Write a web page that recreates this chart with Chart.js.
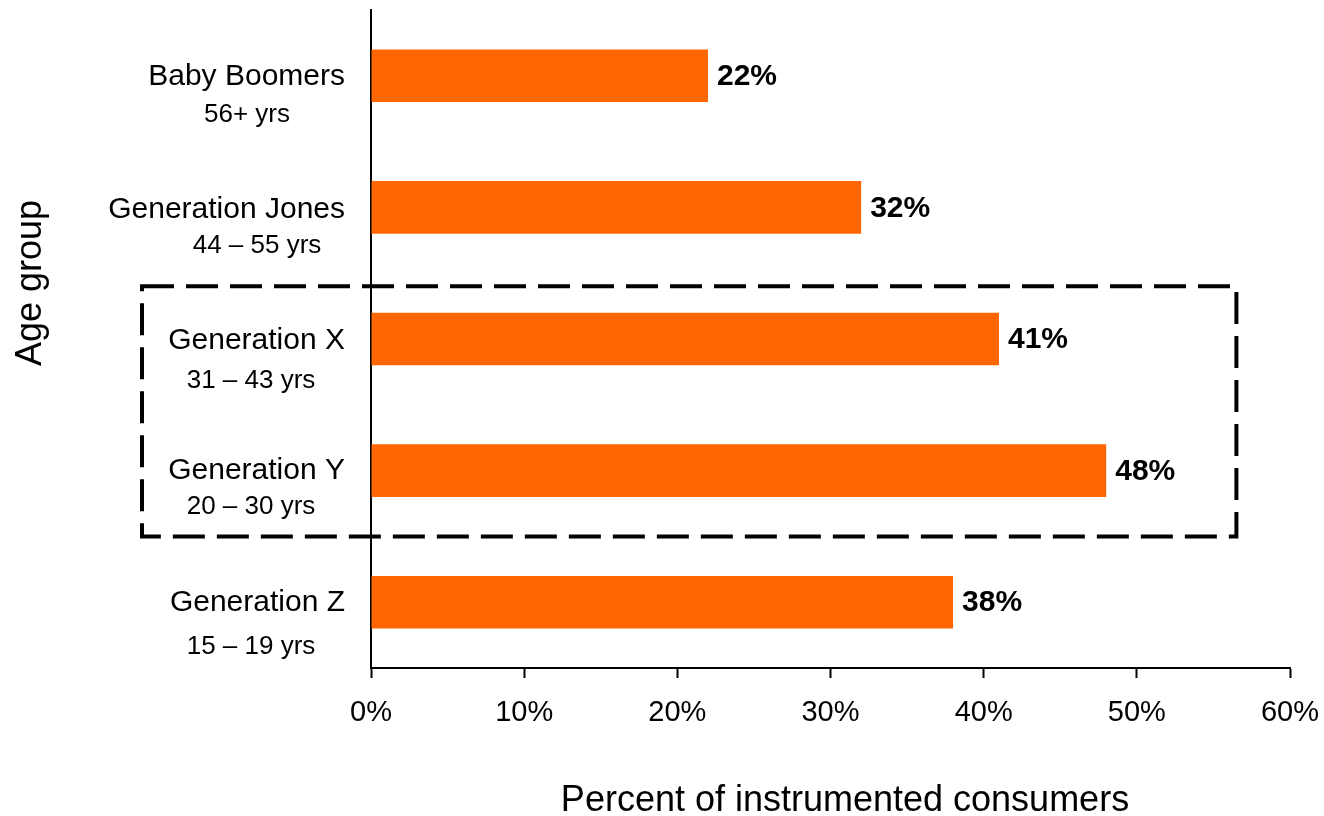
<!DOCTYPE html>
<html>
<head>
<meta charset="utf-8">
<title>Instrumented consumers by age group</title>
<script src="https://cdn.jsdelivr.net/npm/chart.js@4.4.1/dist/chart.umd.min.js"></script>
<style>
  html, body { margin: 0; padding: 0; background: #ffffff; }
  #wrap { width: 1324px; height: 816px; position: relative; }
</style>
</head>
<body>
<div id="wrap"><canvas id="chart" width="1324" height="816"></canvas></div>
<script>
// Age groups, their age ranges and the share of instrumented consumers (%)
const generations = ['Baby Boomers', 'Generation Jones', 'Generation X', 'Generation Y', 'Generation Z'];
const ageRanges = ['56+ yrs', '44 \u2013 55 yrs', '31 \u2013 43 yrs', '20 \u2013 30 yrs', '15 \u2013 19 yrs'];
const shares = [22, 32, 41, 48, 38];
const xTicks = [0, 10, 20, 30, 40, 50, 60];

// Axis titles
const xTitle = 'Percent of instrumented consumers';
const yTitle = 'Age group';

// Groups enclosed by the dashed highlight box
const highlightFrom = 'Generation X';
const highlightTo = 'Generation Y';

const FONT = '"Liberation Sans", Arial, sans-serif';
const ORANGE = '#FF6600';

// Fine placement of the two-line category labels (line 1 offset, line 2 centre/offset)
const labelLayout = [
  { dy1: 1, cx2: 247, dy2: 39 },
  { dy1: 2, cx2: 257, dy2: 38 },
  { dy1: 2, cx2: 251, dy2: 42 },
  { dy1: 0, cx2: 251, dy2: 36 },
  { dy1: 1, cx2: 251, dy2: 45 }
];

const categoryLabels = {
  id: 'categoryLabels',
  afterDraw(chart) {
    const ctx = chart.ctx;
    const y = chart.scales.y;
    ctx.save();
    ctx.fillStyle = '#000';
    ctx.textBaseline = 'middle';
    generations.forEach((name, i) => {
      const cy = y.getPixelForValue(i);
      const l = labelLayout[i];
      ctx.font = '30px ' + FONT;
      ctx.textAlign = 'right';
      ctx.fillText(name, 345, cy + l.dy1);
      ctx.font = '26px ' + FONT;
      ctx.textAlign = 'center';
      ctx.fillText(ageRanges[i], l.cx2, cy + l.dy2);
    });
    ctx.restore();
  }
};

const axisTitles = {
  id: 'axisTitles',
  afterDraw(chart) {
    const ctx = chart.ctx;
    ctx.save();
    ctx.fillStyle = '#000';
    ctx.textAlign = 'center';
    ctx.textBaseline = 'alphabetic';
    // horizontal title, a little right of the plot centre
    ctx.font = '36px ' + FONT;
    ctx.fillText(xTitle, 845, 811);
    // vertical title, set slightly above the middle of the plot
    ctx.translate(41, 283);
    ctx.rotate(-Math.PI / 2);
    ctx.fillText(yTitle, 0, 0);
    ctx.restore();
  }
};

const valueLabels = {
  id: 'valueLabels',
  afterDatasetsDraw(chart) {
    const ctx = chart.ctx;
    const meta = chart.getDatasetMeta(0);
    ctx.save();
    ctx.fillStyle = '#000';
    ctx.font = 'bold 30px ' + FONT;
    ctx.textAlign = 'left';
    ctx.textBaseline = 'middle';
    meta.data.forEach((bar, i) => {
      ctx.fillText(shares[i] + '%', bar.x + 9, bar.y + 1);
    });
    ctx.restore();
  }
};

const highlightBox = {
  id: 'highlightBox',
  afterDraw(chart) {
    const ctx = chart.ctx;
    const x = chart.scales.x;
    const y = chart.scales.y;
    const i0 = generations.indexOf(highlightFrom);
    const i1 = generations.indexOf(highlightTo);
    const top = y.getPixelForValue(i0 - 0.4);
    const bottom = y.getPixelForValue(i1 + 0.5);
    const left = 142;
    const right = x.getPixelForValue(56.5);
    ctx.save();
    ctx.strokeStyle = '#000';
    ctx.lineWidth = 4;
    ctx.setLineDash([32, 12]);
    ctx.strokeRect(left, top, right - left, bottom - top);
    ctx.restore();
  }
};

new Chart(document.getElementById('chart'), {
  type: 'bar',
  data: {
    labels: generations,
    datasets: [{
      data: shares,
      backgroundColor: ORANGE,
      borderWidth: 0,
      barPercentage: 0.4,
      categoryPercentage: 1.0
    }]
  },
  options: {
    indexAxis: 'y',
    responsive: false,
    animation: false,
    layout: { padding: { top: 10, right: 34, bottom: 0, left: 0 } },
    plugins: {
      legend: { display: false },
      tooltip: { enabled: false }
    },
    scales: {
      x: {
        min: 0,
        max: 60,
        afterBuildTicks(scale) {
          scale.ticks = xTicks.map(v => ({ value: v }));
        },
        afterFit(scale) {
          scale.height = 148;
          scale.paddingLeft = 0;
          scale.paddingRight = 0;
        },
        border: { display: true, color: '#000', width: 2 },
        grid: {
          display: true,
          drawOnChartArea: false,
          drawTicks: true,
          tickLength: 10,
          tickWidth: 2,
          tickColor: '#000'
        },
        ticks: {
          color: '#000',
          font: { family: FONT, size: 29 },
          padding: 18,
          maxRotation: 0,
          callback: v => v + '%'
        }
      },
      y: {
        afterFit(scale) {
          scale.width = 371;
          scale.paddingTop = 0;
          scale.paddingBottom = 0;
        },
        border: { display: true, color: '#000', width: 2 },
        grid: { display: false, drawTicks: false },
        ticks: { display: false }
      }
    }
  },
  plugins: [valueLabels, categoryLabels, axisTitles, highlightBox]
});
</script>
</body>
</html>
